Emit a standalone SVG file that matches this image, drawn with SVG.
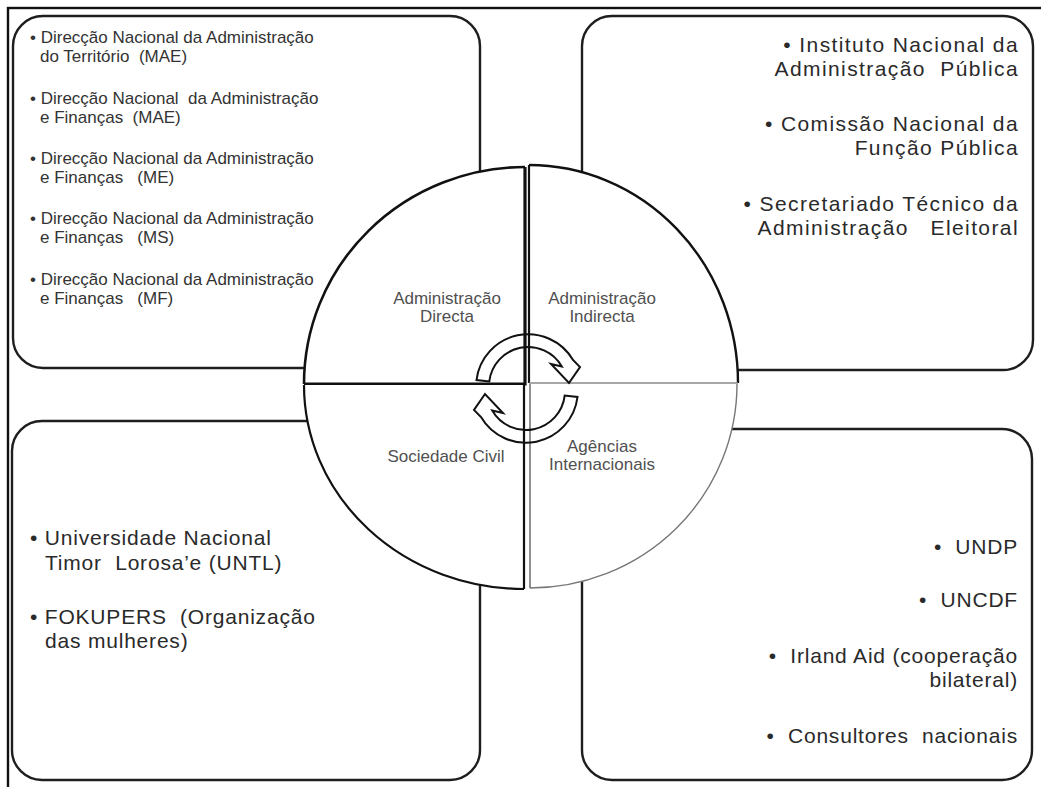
<svg xmlns="http://www.w3.org/2000/svg" width="1041" height="787" viewBox="0 0 1041 787">
<style>
text{white-space:pre}
.box{fill:#fff;stroke:#1e1e1e;stroke-width:2.4}
.q{fill:#fff;stroke:none}
.sm{font-family:"Liberation Sans",Arial,sans-serif;font-size:17px;fill:#333}
.big{font-family:"Liberation Sans",Arial,sans-serif;font-size:21px;letter-spacing:0.8px;fill:#2a2a2a}
.tr{letter-spacing:1.4px}
.lbl{font-family:"Liberation Sans",Arial,sans-serif;font-size:17px;fill:#505050;text-anchor:middle}
.arw{fill:none;stroke:#111;stroke-width:2}
</style>
<rect x="8" y="8" width="1100" height="900" fill="#fff" stroke="#111" stroke-width="2.4"/>

<g id="box-tl">
<rect class="box" x="13" y="16" width="467" height="352" rx="30"/>
<text class="sm" x="30" y="43" xml:space="preserve">• Direcção Nacional da Administração</text>
<text class="sm" x="40" y="62" xml:space="preserve">do Território  (MAE)</text>
<text class="sm" x="30" y="104" xml:space="preserve">• Direcção Nacional  da Administração</text>
<text class="sm" x="40" y="123" xml:space="preserve">e Finanças  (MAE)</text>
<text class="sm" x="30" y="164" xml:space="preserve">• Direcção Nacional da Administração</text>
<text class="sm" x="40" y="183" xml:space="preserve">e Finanças   (ME)</text>
<text class="sm" x="30" y="224" xml:space="preserve">• Direcção Nacional da Administração</text>
<text class="sm" x="40" y="243" xml:space="preserve">e Finanças   (MS)</text>
<text class="sm" x="30" y="285" xml:space="preserve">• Direcção Nacional da Administração</text>
<text class="sm" x="40" y="304" xml:space="preserve">e Finanças   (MF)</text>
</g>

<g id="box-tr">
<rect class="box" x="582" y="16" width="451" height="354" rx="30"/>
<text class="big tr" x="1019" y="52" text-anchor="end" xml:space="preserve">• Instituto Nacional da</text>
<text class="big tr" x="1019" y="76" text-anchor="end" xml:space="preserve">Administração  Pública</text>
<text class="big tr" x="1019" y="131" text-anchor="end" xml:space="preserve">• Comissão Nacional da</text>
<text class="big tr" x="1019" y="155" text-anchor="end" xml:space="preserve">Função Pública</text>
<text class="big tr" x="1019" y="211" text-anchor="end" xml:space="preserve">• Secretariado Técnico da</text>
<text class="big tr" x="1019" y="235" text-anchor="end" xml:space="preserve">Administração   Eleitoral</text>
</g>

<g id="box-bl">
<rect class="box" x="12" y="421" width="468" height="359" rx="30"/>
<text class="big" x="30" y="545" xml:space="preserve">• Universidade Nacional</text>
<text class="big" x="45" y="570" xml:space="preserve">Timor  Lorosa’e (UNTL)</text>
<text class="big" x="30" y="624" xml:space="preserve">• FOKUPERS  (Organização</text>
<text class="big" x="45" y="648" xml:space="preserve">das mulheres)</text>
</g>

<g id="box-br">
<rect class="box" x="582" y="429" width="450" height="351" rx="30"/>
<text class="big" x="1018" y="554" text-anchor="end" xml:space="preserve">•  UNDP</text>
<text class="big" x="1018" y="607" text-anchor="end" xml:space="preserve">•  UNCDF</text>
<text class="big" x="1018" y="663" text-anchor="end" xml:space="preserve">•  Irland Aid (cooperação</text>
<text class="big" x="1018" y="687" text-anchor="end" xml:space="preserve">bilateral)</text>
<text class="big" x="1018" y="743" text-anchor="end" xml:space="preserve">•  Consultores  nacionais</text>
</g>

<g id="quad-tl">
<path class="q" d="M525,384 L304,384 A221,217 0 0 1 525,167 Z"/>
<path d="M304,384 A221,217 0 0 1 525,167" fill="none" stroke="#111" stroke-width="2.6"/>
<path d="M525,167 L525,384 L304,384" fill="none" stroke="#111" stroke-width="3.2"/>
<text class="lbl" x="447" y="304">Administração</text>
<text class="lbl" x="447" y="322">Directa</text>
</g>

<g id="quad-tr">
<path class="q" d="M529,383 L529,165 A209,218 0 0 1 738,383 Z"/>
<path d="M529,165 A209,218 0 0 1 738,383" fill="none" stroke="#111" stroke-width="2.4"/>
<path d="M529,383 L529,165" fill="none" stroke="#111" stroke-width="2.2"/>
<path d="M529,383 L738,383" fill="none" stroke="#888" stroke-width="1.3"/>
<text class="lbl" x="602" y="304">Administração</text>
<text class="lbl" x="602" y="322">Indirecta</text>
</g>

<g id="quad-bl">
<path class="q" d="M524,385 L304,385 A220,204 0 0 0 524,589 Z"/>
<path d="M304,385 A220,204 0 0 0 524,589" fill="none" stroke="#111" stroke-width="2.2"/>
<path d="M524,589 L524,385" fill="none" stroke="#111" stroke-width="2.2"/>
<text class="lbl" x="446" y="462">Sociedade Civil</text>
</g>

<g id="quad-br">
<path class="q" d="M530,384 L530,588 A207,204 0 0 0 737,384 Z"/>
<path d="M530,588 A207,204 0 0 0 737,384" fill="none" stroke="#777" stroke-width="1.4"/>
<path d="M530,384 L530,588" fill="none" stroke="#555" stroke-width="1.3"/>
<text class="lbl" x="602" y="452">Agências</text>
<text class="lbl" x="602" y="470">Internacionais</text>
</g>

<g id="connectors">
<path id="arrow-top" class="arw" d="M476.5,380 A52,52 0 0 1 573,360 L580,367 L569,383 L551,364 L561.8,366.5 A39,39 0 0 0 489.3,381.4 Z"/>
<path id="arrow-bottom" class="arw" transform="rotate(180 527 388.5)" d="M476.5,380 A52,52 0 0 1 573,360 L580,367 L569,383 L551,364 L561.8,366.5 A39,39 0 0 0 489.3,381.4 Z"/>
</g>
</svg>
